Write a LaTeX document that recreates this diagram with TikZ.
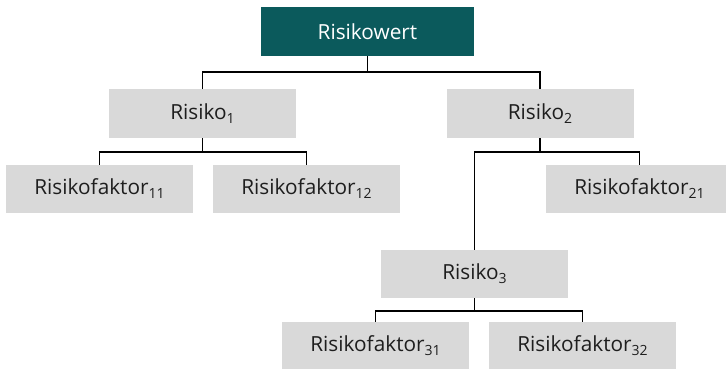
\documentclass[tikz,border=0pt]{standalone}
\usepackage{fontspec}
\setmainfont{Open Sans}
\newcommand{\subidx}[1]{\raisebox{-4pt}{\fontsize{14}{14}\selectfont #1}}
\definecolor{teal}{HTML}{0B5A5C}
\definecolor{boxgray}{HTML}{D9D9D9}
\definecolor{txtgray}{HTML}{1E1E1E}
\tikzset{
  x=1pt,y=1pt,
  box/.style={fill=boxgray, minimum width=187pt, minimum height=48pt, inner sep=0pt, text=txtgray, font=\fontsize{20.8}{24}\selectfont},
  topbox/.style={fill=teal, minimum width=213pt, minimum height=49pt, inner sep=0pt, text=white, font=\fontsize{20.8}{24}\selectfont},
  conn/.style={draw=black, line width=1.1pt}
}
\begin{document}
\begin{tikzpicture}
\useasboundingbox (0,0) rectangle (726,-368);
\node[topbox] (top) at (367.5,-31.5) {Risikowert};
\node[box, minimum height=49pt] (r1) at (202.5,-113.5) {Risiko\subidx{1}};
\node[box, minimum height=49pt] (r2) at (540,-113.5) {Risiko\subidx{2}};
\node[box] (f11) at (99.5,-189) {Risikofaktor\subidx{11}};
\node[box] (f12) at (306.5,-189) {Risikofaktor\subidx{12}};
\node[box] (f21) at (639.5,-189) {Risikofaktor\subidx{21}};
\node[box] (r3) at (474.5,-274) {Risiko\subidx{3}};
\node[box] (f31) at (375.5,-346) {Risikofaktor\subidx{31}};
\node[box] (f32) at (582.5,-346) {Risikofaktor\subidx{32}};
\coordinate (j0) at (367.5,-72);
\coordinate (j1) at (202.5,-152);
\coordinate (j2) at (540,-152);
\coordinate (j3) at (474.5,-311);
\draw[conn] (top.south) -- (j0);
\draw[conn] (j0) -| (r1.north);
\draw[conn] (j0) -| (r2.north);
\draw[conn] (r1.south) -- (j1);
\draw[conn] (j1) -| (f11.north);
\draw[conn] (j1) -| (f12.north);
\draw[conn] (r2.south) -- (j2);
\draw[conn] (j2) -| (f21.north);
\draw[conn] (j2) -| (r3.north);
\draw[conn] (r3.south) -- (j3);
\draw[conn] (j3) -| (f31.north);
\draw[conn] (j3) -| (f32.north);
\end{tikzpicture}
\end{document}
